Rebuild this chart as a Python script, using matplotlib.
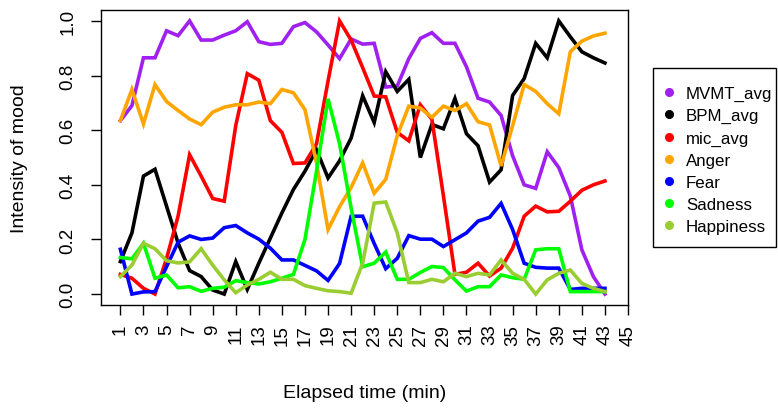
import matplotlib
matplotlib.use("Agg")
import matplotlib.pyplot as plt
from matplotlib.lines import Line2D
from matplotlib.patches import Rectangle

plt.rcParams['font.family'] = ['Liberation Sans', 'DejaVu Sans']

minutes = list(range(1, 44))

mvmt_avg = [0.635, 0.69, 0.865, 0.865, 0.964, 0.946, 1.0, 0.93, 0.93, 0.948,
            0.964, 0.997, 0.924, 0.914, 0.918, 0.979, 0.994, 0.96, 0.912, 0.862,
            0.934, 0.915, 0.918, 0.758, 0.762, 0.862, 0.936, 0.957, 0.918, 0.918,
            0.832, 0.717, 0.703, 0.654, 0.506, 0.40, 0.387, 0.521, 0.463, 0.359,
            0.162, 0.064, 0.0]
bpm_avg = [0.119, 0.224, 0.432, 0.457, 0.322, 0.187, 0.086, 0.064, 0.015, 0.0,
           0.119, 0.017, 0.113, 0.205, 0.297, 0.383, 0.45, 0.528, 0.425, 0.488,
           0.571, 0.726, 0.628, 0.814, 0.742, 0.786, 0.50, 0.621, 0.605, 0.716,
           0.587, 0.543, 0.410, 0.455, 0.727, 0.789, 0.918, 0.865, 1.0, 0.942,
           0.887, 0.865, 0.846]
mic_avg = [0.072, 0.058, 0.021, 0.0, 0.13, 0.285, 0.51, 0.432, 0.35, 0.34,
           0.617, 0.807, 0.783, 0.635, 0.592, 0.478, 0.48, 0.55, 0.78, 1.0,
           0.93, 0.829, 0.725, 0.722, 0.592, 0.561, 0.693, 0.64, 0.36, 0.072,
           0.08, 0.113, 0.066, 0.095, 0.168, 0.285, 0.322, 0.301, 0.303, 0.34,
           0.38, 0.40, 0.414]
anger = [0.635, 0.749, 0.623, 0.767, 0.705, 0.672, 0.641, 0.62, 0.666, 0.684,
         0.693, 0.693, 0.703, 0.697, 0.749, 0.737, 0.675, 0.48, 0.236, 0.32,
         0.39, 0.48, 0.369, 0.42, 0.58, 0.688, 0.681, 0.647, 0.688, 0.672,
         0.697, 0.631, 0.619, 0.469, 0.617, 0.767, 0.742, 0.697, 0.66, 0.887,
         0.926, 0.945, 0.955]
fear = [0.164, 0.0, 0.008, 0.009, 0.1, 0.19, 0.213, 0.2, 0.205, 0.243,
        0.251, 0.224, 0.201, 0.168, 0.125, 0.125, 0.105, 0.085, 0.05, 0.112,
        0.285, 0.285, 0.185, 0.093, 0.131, 0.214, 0.201, 0.201, 0.174, 0.199,
        0.224, 0.267, 0.281, 0.332, 0.236, 0.113, 0.098, 0.095, 0.095, 0.017,
        0.021, 0.021, 0.021]
sadness = [0.134, 0.129, 0.186, 0.058, 0.07, 0.023, 0.027, 0.01, 0.021, 0.025,
           0.049, 0.042, 0.037, 0.045, 0.058, 0.072, 0.2, 0.45, 0.715, 0.55,
           0.315, 0.1, 0.113, 0.154, 0.054, 0.054, 0.079, 0.101, 0.097, 0.052,
           0.011, 0.027, 0.027, 0.07, 0.06, 0.054, 0.162, 0.166, 0.166, 0.009,
           0.009, 0.009, 0.009]
happiness = [0.064, 0.106, 0.186, 0.166, 0.122, 0.114, 0.118, 0.166, 0.106, 0.052,
             0.005, 0.033, 0.054, 0.08, 0.054, 0.054, 0.031, 0.021, 0.012, 0.009,
             0.003, 0.113, 0.333, 0.337, 0.224, 0.042, 0.042, 0.054, 0.045, 0.076,
             0.064, 0.076, 0.07, 0.125, 0.076, 0.054, 0.0, 0.052, 0.076, 0.088,
             0.039, 0.021, 0.009]

series_names = ["MVMT_avg", "BPM_avg", "mic_avg", "Anger", "Fear", "Sadness", "Happiness"]
series_values = [mvmt_avg, bpm_avg, mic_avg, anger, fear, sadness, happiness]
series_colors = ["#A020F0", "#000000", "#FF0000", "#FFA500", "#0000FF", "#00FF00", "#9ACD32"]

x_ticks = list(range(1, 46, 2))
y_ticks = [0.0, 0.2, 0.4, 0.6, 0.8, 1.0]

W, H = 778, 410
fig = plt.figure(figsize=(W / 100, H / 100), dpi=100)
ax = fig.add_axes([101 / W, 1 - 306 / H, 527 / W, 295 / H])

for name, vals, col in zip(series_names, series_values, series_colors):
    ax.plot(minutes, vals, color=col, lw=2.6, solid_joinstyle='miter', label=name)

ax.set_xlim(1 - 0.04 * 42, 43 + 0.04 * 42)
ax.set_ylim(-0.04, 1.04)

ax.set_xticks(x_ticks)
ax.set_xticklabels([str(v) for v in x_ticks], rotation=90, fontsize=13.5, va='top')
ax.set_yticks(y_ticks)
ax.set_yticklabels([f"{v:.1f}" for v in y_ticks], rotation=90, fontsize=13.5, va='center')
ax.tick_params(axis='x', length=7.5, width=1, pad=6, direction='out')
ax.tick_params(axis='y', length=7.5, width=1, pad=10, direction='out')
for sp in ax.spines.values():
    sp.set_linewidth(1)

ax.set_xlabel("Elapsed time (min)", fontsize=14)
ax.xaxis.set_label_coords(0.5, (306 - 394) / 295)
ax.xaxis.label.set_va('center')
ax.set_ylabel("Intensity of mood", fontsize=14)
ax.yaxis.set_label_coords((20 - 101) / 527, 0.5)
ax.yaxis.label.set_va('center')

# legend (R-style box outside the plot)
fs = 12.2
em = fs * 100 / 72
handles = [Line2D([], [], marker='o', linestyle='none', markersize=5.5,
                  markerfacecolor=c, markeredgecolor=c) for c in series_colors]
hl = 0.8
leg = fig.legend(handles, series_names, loc='upper left',
                 bbox_to_anchor=((669 - hl * em / 2) / W, 1 - 87 / H), borderaxespad=0,
                 fontsize=fs, frameon=False, handlelength=hl,
                 handletextpad=(686 - 669 - hl * em / 2) / em,
                 labelspacing=0.42, borderpad=0)
fig.add_artist(Rectangle((653 / W, 1 - 248 / H), (776 - 653) / W, (248 - 69) / H,
                         transform=fig.transFigure, fill=False,
                         edgecolor='black', linewidth=1))

fig.savefig("out.png", dpi=100)
